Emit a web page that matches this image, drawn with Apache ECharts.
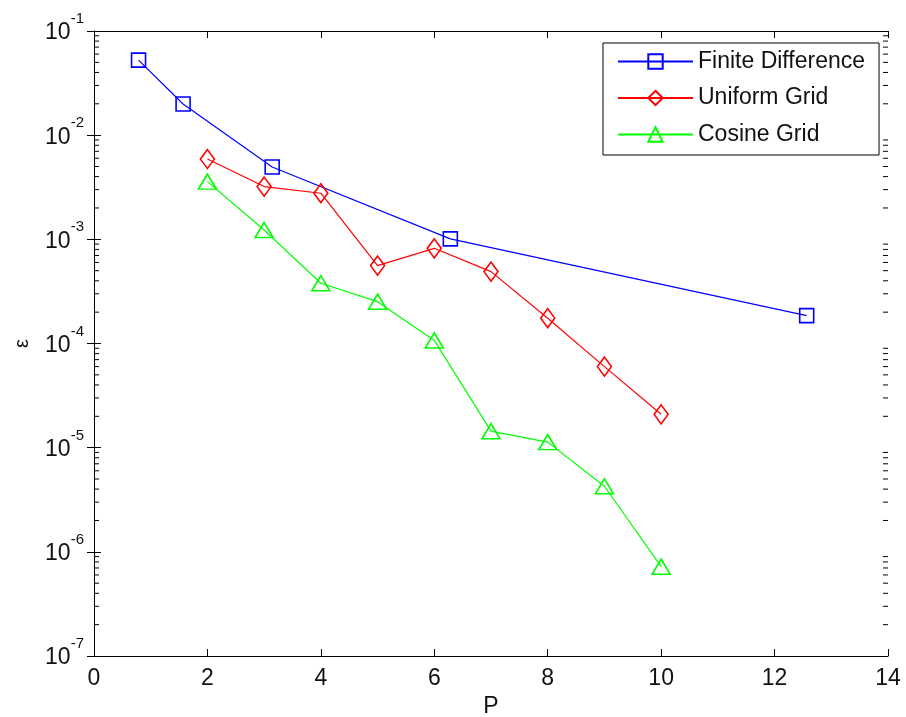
<!DOCTYPE html>
<html>
<head>
<meta charset="utf-8">
<script src="https://cdn.jsdelivr.net/npm/echarts@6/dist/echarts.min.js"></script>
<style>
html,body{margin:0;padding:0;background:#fff;}
#chart{width:906px;height:717px;}
</style>
</head>
<body>
<div id="chart"></div>
<script>
// ---- data ----
var fdX = [Math.PI / 4, Math.PI / 2, Math.PI, 2 * Math.PI, 4 * Math.PI];
var fdY = [0.0525, 0.0199, 0.00495, 0.00101, 1.85e-4];

var uniformX = [2, 3, 4, 5, 6, 7, 8, 9, 10];
var uniformY = [0.0059, 0.00321, 0.00277, 5.6e-4, 8.2e-4, 4.9e-4, 1.75e-4, 6.0e-5, 2.09e-5];

var cosineX = [2, 3, 4, 5, 6, 7, 8, 9, 10];
var cosineY = [0.00358, 0.00123, 3.79e-4, 2.52e-4, 1.07e-4, 1.44e-5, 1.13e-5, 4.26e-6, 7.2e-7];

var seriesNames = ['Finite Difference', 'Uniform Grid', 'Cosine Grid'];
var xTicks = [0, 2, 4, 6, 8, 10, 12, 14];
var yDecades = [-7, -6, -5, -4, -3, -2, -1];
var minorMantissas = [2, 3, 4, 5, 6, 7, 8, 9];

function pairs(xs, ys) { return xs.map(function (x, i) { return [x, ys[i]]; }); }

var minorTickData = [];
yDecades.slice(0, -1).forEach(function (e) {
  minorMantissas.forEach(function (m) { minorTickData.push([0, m * Math.pow(10, e)]); });
});

var tickFont = "'Liberation Sans', Arial, sans-serif";
var mainFont = "'Liberation Sans', Arial, sans-serif";

var chart = echarts.init(document.getElementById('chart'), null, {renderer: 'canvas'});

function mkSeries(name, data, color, symbol, size) {
  return {
    name: name,
    type: 'line',
    data: data,
    symbol: symbol,
    symbolSize: size,
    showAllSymbol: true,
    lineStyle: {color: color, width: 1.2},
    itemStyle: {color: 'rgba(0,0,0,0)', borderColor: color, borderWidth: 1.6},
    emphasis: {disabled: true},
    animation: false,
    z: 3
  };
}

var option = {
  backgroundColor: '#fff',
  animation: false,
  grid: {left: 94, right: 18, top: 31, bottom: 61, containLabel: false, outerBoundsMode: 'none'},
  legend: {
    data: seriesNames,
    orient: 'vertical',
    left: 603,
    top: 43,
    padding: [7, 14, 9, 14],
    itemWidth: 75,
    itemHeight: 18,
    itemGap: 13.5,
    borderColor: '#000',
    borderWidth: 1,
    backgroundColor: '#fff',
    textStyle: {fontFamily: mainFont, fontSize: 23, color: '#111'},
    selectedMode: false
  },
  xAxis: [{
    type: 'value',
    min: 0, max: 14, interval: 2,
    position: 'bottom',
    name: 'P',
    nameLocation: 'middle',
    nameGap: 33,
    nameTextStyle: {fontFamily: mainFont, fontSize: 23, color: '#111'},
    axisLine: {lineStyle: {color: '#000', width: 1}},
    axisTick: {inside: true, length: 7, lineStyle: {color: '#000'}},
    axisLabel: {fontFamily: tickFont, fontSize: 23, color: '#111', margin: 11},
    splitLine: {show: false}
  }, {
    type: 'value',
    min: 0, max: 14, interval: 2,
    position: 'top',
    axisLine: {lineStyle: {color: '#000', width: 1}},
    axisTick: {inside: true, length: 7, lineStyle: {color: '#000'}},
    axisLabel: {show: false},
    splitLine: {show: false}
  }],
  yAxis: [{
    type: 'log',
    logBase: 10,
    min: 1e-7, max: 1e-1,
    splitNumber: 6,
    position: 'left',
    name: 'ε',
    nameLocation: 'middle',
    nameRotate: 90,
    nameGap: 62,
    nameTextStyle: {fontFamily: mainFont, fontSize: 20, color: '#111'},
    axisLine: {lineStyle: {color: '#000', width: 1}},
    axisTick: {inside: true, length: 7, lineStyle: {color: '#000'}},
    axisLabel: {
      margin: 10,
      formatter: function (v) {
        var e = Math.round(Math.log(v) / Math.LN10);
        return '{b|10}{s|' + e + '}';
      },
      rich: {
        b: {fontFamily: tickFont, fontSize: 23, color: '#111', padding: [4, 0, 0, 0]},
        s: {fontFamily: tickFont, fontSize: 15, color: '#111', padding: [0, 0, 24, 0]}
      }
    },
    splitLine: {show: false}
  }, {
    type: 'log',
    logBase: 10,
    min: 1e-7, max: 1e-1,
    splitNumber: 6,
    position: 'right',
    axisLine: {lineStyle: {color: '#000', width: 1}},
    axisTick: {inside: true, length: 7, lineStyle: {color: '#000'}},
    axisLabel: {show: false},
    splitLine: {show: false}
  }],
  series: [
    mkSeries(seriesNames[0], pairs(fdX, fdY), '#0000ff', 'rect', 14),
    mkSeries(seriesNames[1], pairs(uniformX, uniformY), '#ff0000', 'diamond', [14, 19]),
    mkSeries(seriesNames[2], pairs(cosineX, cosineY), '#00ff00', 'triangle', [18, 15]),
    {
      type: 'custom',
      name: 'minorTicks',
      silent: true,
      animation: false,
      data: minorTickData,
      clip: false,
      renderItem: function (params, api) {
        var v = api.value(1);
        var pl = api.coord([0, v]);
        var pr = api.coord([14, v]);
        return {
          type: 'group',
          children: [
            {type: 'line', shape: {x1: pl[0], y1: pl[1], x2: pl[0] + 5, y2: pl[1]}, style: {stroke: '#000', lineWidth: 1}},
            {type: 'line', shape: {x1: pr[0], y1: pr[1], x2: pr[0] - 5, y2: pr[1]}, style: {stroke: '#000', lineWidth: 1}}
          ]
        };
      },
      z: 1
    }
  ]
};
chart.setOption(option);
</script>
</body>
</html>
